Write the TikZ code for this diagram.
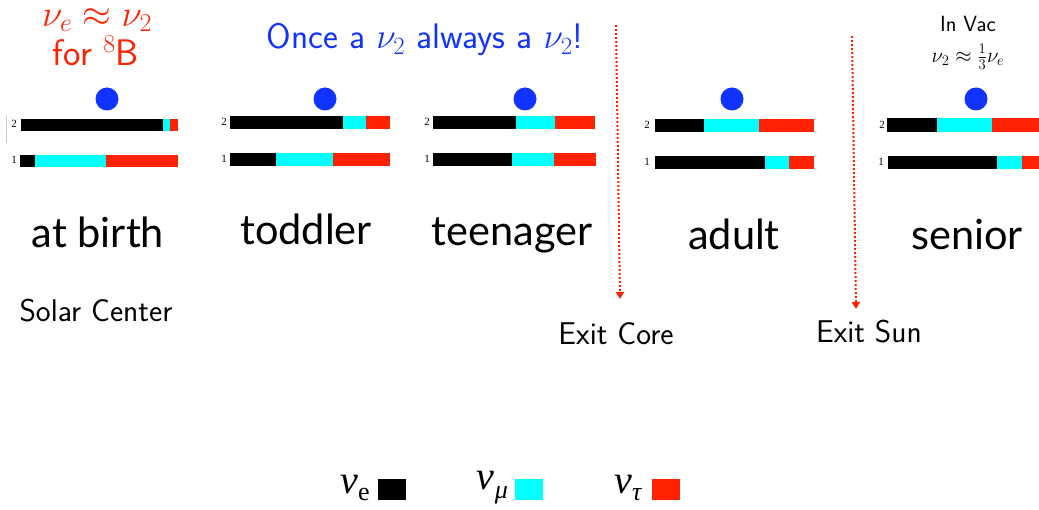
\RequirePackage{fix-cm}
\documentclass[tikz,border=0pt]{standalone}
\usepackage{fontspec}
\usetikzlibrary{arrows.meta}
\newfontfamily\bigfont{Lato}
\newfontfamily\legfont{Liberation Serif}
\definecolor{nured}{RGB}{255,34,0}
\definecolor{nucyan}{RGB}{0,255,255}
\definecolor{nublue}{RGB}{17,51,255}
\newcommand{\nbar}[6]{%
  \fill[black] (#3,#1) rectangle (#4,#2);
  \fill[nucyan] (#4,#1) rectangle (#5,#2);
  \fill[nured] (#5,#1) rectangle (#6,#2);}
\tikzset{
  stage/.style={font=\bigfont\fontsize{41.5}{44}\selectfont, inner sep=0pt, anchor=base},
  place/.style={font=\sffamily\fontsize{31.5}{34}\selectfont, inner sep=0pt},
  dot/.style={circle, fill=nublue, minimum size=23pt, inner sep=0pt},
  num/.style={font=\legfont\fontsize{11}{12}\selectfont, inner sep=0pt},
  exitarrow/.style={nured, line width=2pt, dash pattern=on 2pt off 2pt, -{Triangle[length=7pt,width=8pt]}},
  legsq/.style={minimum width=28pt, minimum height=21pt, inner sep=0pt}
}
\begin{document}
\begin{tikzpicture}[x=1pt,y=-1pt]
\useasboundingbox (0,0) rectangle (1039,510);
% top labels
\node[nured, font=\sffamily\fontsize{37}{40}\selectfont, inner sep=0pt] (t1) at (97,20) {$\nu_e \approx \nu_2$};
\node[nured, font=\sffamily\fontsize{37}{40}\selectfont, inner sep=0pt] (t2) at (96,51) {for $^8$B};
\node[nublue, font=\sffamily\fontsize{35.5}{38}\selectfont, inner sep=0pt] (t3) at (425,40) {Once a $\nu_2$ always a $\nu_2$!};
\node[font=\sffamily\fontsize{22}{24}\selectfont, inner sep=0pt] (t4) at (968,24) {In Vac};
\node[font=\fontsize{21}{22}\selectfont, inner sep=0pt] (t5) at (968,57) {$\nu_2 \approx \frac{1}{3}\nu_e$};
% dots
\node[dot] (d1) at (107,99) {};
\node[dot] (d2) at (325,99) {};
\node[dot] (d3) at (525,99) {};
\node[dot] (d4) at (732,99) {};
\node[dot] (d5) at (976,99) {};
% gray mark
\draw[gray!40, line width=0.8pt] (6.5,115) -- (6.5,143);
% bars
\nbar{119}{131}{21}{163}{170}{178}
\nbar{155}{167}{20}{35}{106}{178}
\nbar{116}{129}{230}{343}{366}{390}
\nbar{153}{166}{230}{276}{333}{390}
\nbar{116}{129}{433}{516}{555}{595}
\nbar{153}{166}{433}{512}{554}{596}
\nbar{119}{132}{655}{704}{759}{814}
\nbar{156}{169}{655}{765}{789}{814}
\nbar{118}{132}{887}{937}{992}{1039}
\nbar{156}{169}{888}{997}{1022}{1039}
% bar numbers
\node[num] (n12) at (14,124) {2};
\node[num] (n11) at (14,160) {1};
\node[num] (n22) at (224,122) {2};
\node[num] (n21) at (224,159) {1};
\node[num] (n32) at (427,122) {2};
\node[num] (n31) at (427,159) {1};
\node[num] (n42) at (647,125) {2};
\node[num] (n41) at (647,162) {1};
\node[num] (n52) at (882,125) {2};
\node[num] (n51) at (881,162) {1};
% stage labels
\node[stage] (s1) at (98,248) {at birth};
\node[stage] (s2) at (306,245) {toddler};
\node[stage] (s3) at (512,246) {teenager};
\node[stage] (s4) at (734,250) {adult};
\node[stage] (s5) at (967,250) {senior};
% places
\node[place] (p1) at (96,311) {Solar Center};
\node[place] (p2) at (616,334) {Exit Core};
\node[place] (p3) at (869,332) {Exit Sun};
% arrows
\coordinate (a1s) at (616,25);
\coordinate (a1e) at (620,299);
\coordinate (a2s) at (852,36);
\coordinate (a2e) at (856,309);
\draw[exitarrow] (a1s) -- (a1e);
\draw[exitarrow] (a2s) -- (a2e);
% legend
\node[inner sep=0pt, font=\legfont\fontsize{40}{42}\selectfont] (l1) at (355,488) {\itshape ν\upshape\raisebox{-7pt}{\fontsize{26}{26}\selectfont e}};
\node[legsq, fill=black] (q1) at (392,489.5) {};
\node[inner sep=0pt, font=\legfont\fontsize{40}{42}\selectfont] (l2) at (492,488) {\itshape ν\hspace{1pt}\raisebox{-9pt}{\fontsize{26}{26}\selectfont μ}};
\node[legsq, fill=nucyan] (q2) at (529,489.5) {};
\node[inner sep=0pt, font=\legfont\fontsize{40}{42}\selectfont] (l3) at (628,488) {\itshape ν\raisebox{-7pt}{\fontsize{26}{26}\selectfont τ}};
\node[legsq, fill=nured] (q3) at (666,489.5) {};
\end{tikzpicture}
\end{document}
